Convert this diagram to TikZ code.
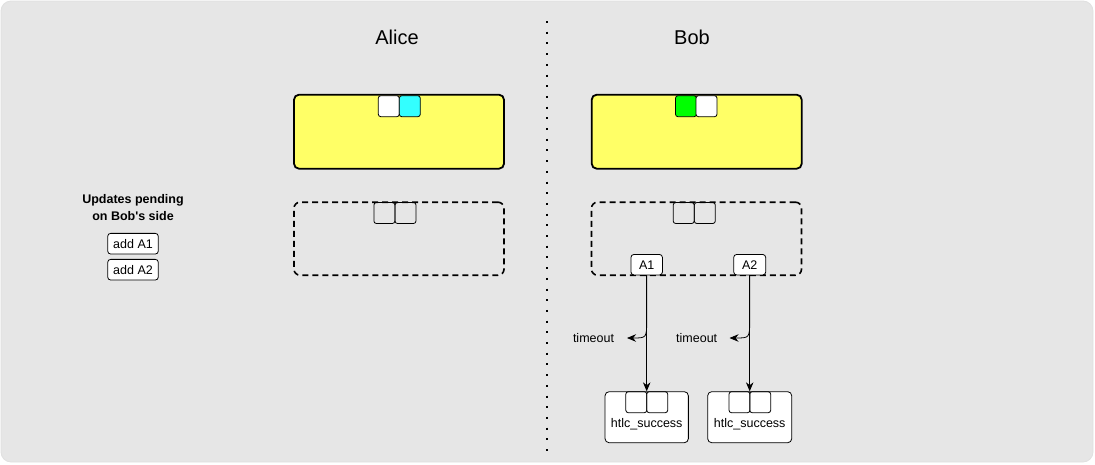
\documentclass[tikz,border=0pt]{standalone}
\usepackage{fontspec}
\setmainfont{Liberation Sans}
\usetikzlibrary{arrows.meta}
\definecolor{bg}{HTML}{E6E6E6}
\definecolor{yel}{HTML}{FFFF66}
\definecolor{cyn}{HTML}{33FFFF}
\definecolor{grn}{HTML}{00FF00}
\tikzset{
  txt/.style={font=\fontsize{12.5}{15}\selectfont, inner sep=0},
  ttl/.style={font=\fontsize{20}{24}\selectfont, inner sep=0},
  cell/.style={draw, rounded corners=2.5pt, minimum width=21pt, minimum height=21pt, inner sep=0, line width=0.8pt},
  yelbox/.style={draw, fill=yel, rounded corners=5pt, line width=1.8pt, minimum width=210pt, minimum height=74pt, inner sep=0},
  dashbox/.style={draw, rounded corners=6pt, line width=1.6pt, dash pattern=on 6pt off 4pt, minimum width=210pt, minimum height=73pt, inner sep=0},
  tag/.style={draw, fill=white, rounded corners=3pt, line width=0.8pt, inner sep=0, font=\fontsize{12.5}{15}\selectfont},
  htlcbox/.style={draw, fill=white, rounded corners=4pt, line width=0.8pt, minimum height=51pt, inner sep=0},
  arr/.style={-{Stealth[length=9pt,width=7.5pt]}, line width=0.8pt},
}
\begin{document}
\begin{tikzpicture}[x=1pt,y=-1pt]
\useasboundingbox (0,0) rectangle (1095,464);
\draw[fill=bg, draw=black!12, rounded corners=10pt, line width=0.8pt] (1,1) rectangle (1093,462);
\draw[line width=2pt, dash pattern=on 2pt off 8.7pt] (547,21) -- (547,452);

\node[ttl] (alice) at (397,37) {Alice};
\node[ttl] (bob) at (692,37) {Bob};

% Alice
\node[yelbox] (ay) at (399,131.7) {};
\node[cell, fill=white] (ay1) at (388.8,106.2) {};
\node[cell, fill=cyn] (ay2) at (409.8,106.2) {};
\node[dashbox] (ad) at (399,238.7) {};
\node[cell] (ad1) at (384.4,213) {};
\node[cell] (ad2) at (405.5,213) {};

% Bob
\node[yelbox] (by) at (696.7,131.7) {};
\node[cell, fill=grn] (by1) at (686,106.2) {};
\node[cell, fill=white] (by2) at (706.5,106.2) {};
\node[dashbox] (bd) at (696.5,238.7) {};
\node[cell] (bd1) at (683.7,213) {};
\node[cell] (bd2) at (704.8,213) {};

% htlc boxes
\node[htlcbox, minimum width=83.3pt] (h1) at (646.7,417.2) {};
\node[cell] (h1a) at (636.3,402.2) {};
\node[cell] (h1b) at (657.2,402.2) {};
\node[txt] (h1t) at (646.7,424.5) {htlc\_success};
\node[htlcbox, minimum width=84pt] (h2) at (749.7,417.2) {};
\node[cell] (h2a) at (739.5,402.2) {};
\node[cell] (h2b) at (760.2,402.2) {};
\node[txt] (h2t) at (749.7,424.5) {htlc\_success};

\node[tag, minimum width=31.5pt, minimum height=20.5pt] (a1) at (646.7,264.7) {A1};
\node[tag, minimum width=32pt, minimum height=20.5pt] (a2) at (749.7,264.7) {A2};

\draw[arr] (a1.south) -- (h1.north);
\draw[arr] (a2.south) -- (h2.north);

\node[txt] (to1) at (593.5,338) {timeout};
\node[txt] (to2) at (696.7,338) {timeout};
\coordinate (c1) at (627,338);
\coordinate (c2) at (729.5,338);
\draw[arr] (a1.south) -- (646.7,320) .. controls (646.7,338) .. (c1);
\draw[arr] (a2.south) -- (749.7,320) .. controls (749.7,338) .. (c2);

% left legend
\node[txt, font=\bfseries\fontsize{12.5}{17}\selectfont, align=center] (upd) at (133,207.5) {Updates pending\\on Bob\textquotesingle s side};
\node[tag, minimum width=50.6pt, minimum height=20.7pt] (add1) at (133,243.7) {add A1};
\node[tag, minimum width=50.6pt, minimum height=20.7pt] (add2) at (133,269.7) {add A2};
\end{tikzpicture}
\end{document}
